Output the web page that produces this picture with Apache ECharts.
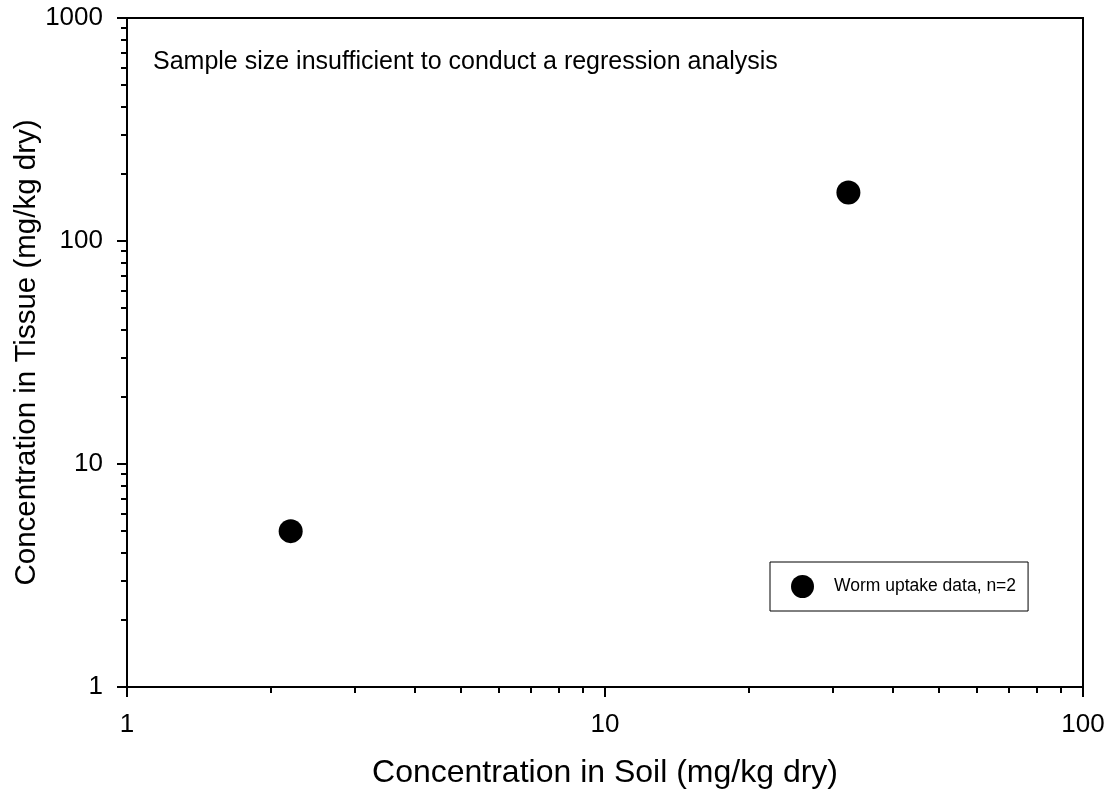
<!DOCTYPE html>
<html>
<head>
<meta charset="utf-8">
<script src="https://cdn.jsdelivr.net/npm/echarts@6/dist/echarts.min.js"></script>
<style>html,body{margin:0;padding:0;background:#fff;}#c{width:1115px;height:799px;}</style>
</head>
<body>
<div id="c"></div>
<script>
const soil = [2.2, 32.3];
const tissue = [5.0, 165];
const xMajor = [1, 10, 100];
const yMajor = [1, 10, 100, 1000];
const xMinor = [2,3,4,5,6,7,8,9,20,30,40,50,60,70,80,90];
const yMinor = [2,3,4,5,6,7,8,9,20,30,40,50,60,70,80,90,200,300,400,500,600,700,800,900];
const seriesName = 'Worm uptake data, n=2';
const note = 'Sample size insufficient to conduct a regression analysis';
const xTitle = 'Concentration in Soil (mg/kg dry)';
const yTitle = 'Concentration in Tissue (mg/kg dry)';

const font = 'Arial, "Liberation Sans", Helvetica, sans-serif';
const chart = echarts.init(document.getElementById('c'));
const gridBox = {left: 127, right: 32, top: 18, bottom: 112};
const plain = v => String(v);
chart.setOption({
  animation: false,
  textStyle: {fontFamily: font, color: '#000'},
  grid: [
    Object.assign({show: true, borderColor: '#000', borderWidth: 2, backgroundColor: 'transparent', containLabel: false, outerBoundsMode: 'none'}, gridBox),
    Object.assign({show: false, containLabel: false, outerBoundsMode: 'none'}, gridBox)
  ],
  xAxis: [{
    type: 'log', logBase: 10, min: 1, max: 100, gridIndex: 0,
    name: xTitle, nameLocation: 'middle', nameGap: 70, nameMoveOverlap: false,
    nameTextStyle: {fontSize: 32, color: '#000', fontFamily: font},
    axisLine: {show: true, lineStyle: {color: '#000', width: 2}},
    axisTick: {show: true, length: 10, customValues: xMajor, lineStyle: {color: '#000', width: 2}},
    axisLabel: {customValues: xMajor, formatter: plain, fontSize: 26, color: '#000', margin: 25, fontFamily: font},
    splitLine: {show: false}
  }, {
    type: 'log', logBase: 10, min: 1, max: 100, gridIndex: 1,
    axisLine: {show: false},
    axisTick: {show: true, length: 6, customValues: xMinor, lineStyle: {color: '#000', width: 2}},
    axisLabel: {show: false},
    splitLine: {show: false}
  }],
  yAxis: [{
    type: 'log', logBase: 10, min: 1, max: 1000, gridIndex: 0,
    name: yTitle, nameLocation: 'middle', nameGap: 85, nameMoveOverlap: false,
    nameTextStyle: {fontSize: 29.5, color: '#000', fontFamily: font},
    axisLine: {show: true, lineStyle: {color: '#000', width: 2}},
    axisTick: {show: true, length: 10, customValues: yMajor, lineStyle: {color: '#000', width: 2}},
    axisLabel: {customValues: yMajor, formatter: plain, fontSize: 26, color: '#000', margin: 24, fontFamily: font},
    splitLine: {show: false}
  }, {
    type: 'log', logBase: 10, min: 1, max: 1000, gridIndex: 1,
    axisLine: {show: false},
    axisTick: {show: true, length: 6, customValues: yMinor, lineStyle: {color: '#000', width: 2}},
    axisLabel: {show: false},
    splitLine: {show: false}
  }],
  legend: {
    show: true, orient: 'vertical', left: 770, top: 562,
    padding: [13, 12, 13, 21],
    borderColor: '#000', borderWidth: 1, backgroundColor: '#fff',
    itemWidth: 23, itemHeight: 23, icon: 'circle',
    formatter: name => '{t|' + name + '}',
    textStyle: {fontSize: 17.5, color: '#000', fontFamily: font,
      rich: {t: {fontSize: 17.5, color: '#000', fontFamily: font, padding: [0, 0, 0, 15]}}},
    data: [seriesName]
  },
  graphic: [{
    type: 'text', left: 153, top: 50,
    style: {text: note, fontSize: 25, fill: '#000', fontFamily: font}
  }],
  series: [{
    name: seriesName, type: 'scatter', xAxisIndex: 0, yAxisIndex: 0,
    symbol: 'circle', symbolSize: 24,
    itemStyle: {color: '#000', opacity: 1},
    data: soil.map((v, i) => [v, tissue[i]])
  }]
});
</script>
</body>
</html>
